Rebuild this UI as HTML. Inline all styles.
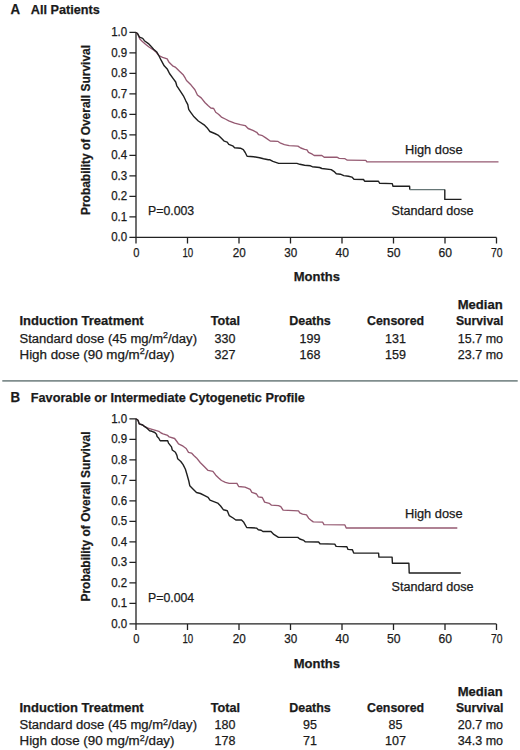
<!DOCTYPE html>
<html><head><meta charset="utf-8"><style>
html,body{margin:0;padding:0;background:#fff;}
svg{display:block;}
text{font-family:"Liberation Sans",sans-serif;fill:#1a1a1a;stroke:#1a1a1a;stroke-width:0.25px;}
</style></head><body>
<svg width="520" height="750" viewBox="0 0 520 750">
<rect width="520" height="750" fill="#fff"/>
<text x="10.6" y="14.4" font-size="14" font-weight="bold" textLength="9.6" lengthAdjust="spacingAndGlyphs">A</text>
<text x="30.8" y="14.4" font-size="13.5" font-weight="bold" textLength="69" lengthAdjust="spacingAndGlyphs">All Patients</text>
<text transform="translate(90.2 130) rotate(-90)" font-size="13.5" font-weight="bold" text-anchor="middle" textLength="170" lengthAdjust="spacingAndGlyphs">Probability of Overall Survival</text>
<path d="M136 32.3V237.4M136 237.4H496.5" stroke="#222" stroke-width="1.3" fill="none"/>
<text x="127.2" y="241.3" font-size="12" text-anchor="end" textLength="16" lengthAdjust="spacingAndGlyphs">0.0</text>
<text x="127.2" y="220.8" font-size="12" text-anchor="end" textLength="16" lengthAdjust="spacingAndGlyphs">0.1</text>
<text x="127.2" y="200.3" font-size="12" text-anchor="end" textLength="16" lengthAdjust="spacingAndGlyphs">0.2</text>
<text x="127.2" y="179.8" font-size="12" text-anchor="end" textLength="16" lengthAdjust="spacingAndGlyphs">0.3</text>
<text x="127.2" y="159.3" font-size="12" text-anchor="end" textLength="16" lengthAdjust="spacingAndGlyphs">0.4</text>
<text x="127.2" y="138.8" font-size="12" text-anchor="end" textLength="16" lengthAdjust="spacingAndGlyphs">0.5</text>
<text x="127.2" y="118.2" font-size="12" text-anchor="end" textLength="16" lengthAdjust="spacingAndGlyphs">0.6</text>
<text x="127.2" y="97.7" font-size="12" text-anchor="end" textLength="16" lengthAdjust="spacingAndGlyphs">0.7</text>
<text x="127.2" y="77.2" font-size="12" text-anchor="end" textLength="16" lengthAdjust="spacingAndGlyphs">0.8</text>
<text x="127.2" y="56.7" font-size="12" text-anchor="end" textLength="16" lengthAdjust="spacingAndGlyphs">0.9</text>
<text x="127.2" y="36.2" font-size="12" text-anchor="end" textLength="16" lengthAdjust="spacingAndGlyphs">1.0</text>
<text x="136.3" y="256.9" font-size="12.5" text-anchor="middle" textLength="6.2" lengthAdjust="spacingAndGlyphs">0</text>
<text x="187.8" y="256.9" font-size="12.5" text-anchor="middle" textLength="10.8" lengthAdjust="spacingAndGlyphs">10</text>
<text x="239.3" y="256.9" font-size="12.5" text-anchor="middle" textLength="13" lengthAdjust="spacingAndGlyphs">20</text>
<text x="290.8" y="256.9" font-size="12.5" text-anchor="middle" textLength="13" lengthAdjust="spacingAndGlyphs">30</text>
<text x="342.3" y="256.9" font-size="12.5" text-anchor="middle" textLength="13.5" lengthAdjust="spacingAndGlyphs">40</text>
<text x="393.8" y="256.9" font-size="12.5" text-anchor="middle" textLength="13.5" lengthAdjust="spacingAndGlyphs">50</text>
<text x="445.3" y="256.9" font-size="12.5" text-anchor="middle" textLength="13.5" lengthAdjust="spacingAndGlyphs">60</text>
<text x="496.8" y="256.9" font-size="12.5" text-anchor="middle" textLength="11.5" lengthAdjust="spacingAndGlyphs">70</text>
<path d="M129.4 237.4H136M129.4 216.9H136M129.4 196.4H136M129.4 175.9H136M129.4 155.4H136M129.4 134.9H136M129.4 114.3H136M129.4 93.8H136M129.4 73.3H136M129.4 52.8H136M129.4 32.3H136M136 237.4V243.4M187.5 237.4V243.4M239 237.4V243.4M290.5 237.4V243.4M342 237.4V243.4M393.5 237.4V243.4M445 237.4V243.4M496.5 237.4V243.4" stroke="#222" stroke-width="1.3" fill="none"/>
<text x="293.8" y="281.3" font-size="13" font-weight="bold" textLength="46.2" lengthAdjust="spacingAndGlyphs">Months</text>
<text x="148" y="215" font-size="12" textLength="46.2" lengthAdjust="spacingAndGlyphs">P=0.003</text>
<text x="404.9" y="153.8" font-size="12.5" textLength="57.7" lengthAdjust="spacingAndGlyphs">High dose</text>
<text x="391.5" y="214.9" font-size="12.5" textLength="82" lengthAdjust="spacingAndGlyphs">Standard dose</text>
<path d="M136 32.5L137.5 33.5L139.8 39L142.1 41.3L145.5 44.2L149 47L153.6 50L156.5 52.5L158.8 55.5L162.6 57.4L167.2 58.9L168.8 62L172.6 65.8L175.7 67.4L179.5 71.2L183.4 75.1L185.3 78.2L186.5 80.5L191.1 85.1L194.9 89.7L197.4 95L201.2 97.9L205.1 102.7L208 105.6L210.8 108L213.7 108.5L215.7 112.3L218.5 114.2L221.4 117.1L225.3 119L228.8 120.8L234.6 123.2L240.4 124.6L245.2 125.6L248.1 128.5L252.9 130.4L256.7 132.3L258.7 134.7L262.5 135.7L265.4 137.6L270.2 141L277.7 141.3L280.6 143.2L284.4 144.6L289.2 145.6L297.9 146.1L300.8 148L304.6 149.4L307 149.9L308.5 152.3L312.3 154.2L314.2 155.5L321.9 155.5L324.2 157.2L336.9 157.2L339.2 158.3L345 158.7L347.3 160.2L365.8 160.4L366.9 161.9L498.5 161.9" stroke="#955a72" stroke-width="1.35" fill="none" stroke-linejoin="round"/>
<path d="M136 32.5L137.5 33.5L139.5 37.2L142.7 38.4L144.4 40.7L148.4 43.6L150.7 45.9L153.6 49.3L156.5 51.7L158.8 55.5L161.1 60.2L164.2 65.8L167.2 68.9L169.5 73.5L173.4 78.9L175.7 82L176.8 85.8L180.3 91.2L183.4 95.8L185.8 100.8L187.8 104.6L188.7 109.4L190.7 112.3L193.5 116.2L198.3 121L204.1 124.8L207 127.7L209.9 131.5L214.7 133.5L218.5 135.4L221.4 138.3L224.3 141.2L227.2 142.1L228.8 144.3L232.7 145.8L234.6 147.7L240.4 148.2L243.3 149.6L245.2 152.5L247.1 156.3L253.8 156.8L259.6 157.8L263.5 158.8L268.3 159.7L270 159.8L272.9 161.4L278.7 163.4L296.9 163.4L299.8 164.3L304.6 165.3L310.4 165.8L312.3 166.7L319.6 167.5L321.9 168.5L331.2 169.6L334.6 171.9L336.3 173.7L340.4 174.2L343.8 175.6L348.5 176.3L351.9 177.1L354.2 179.4L363.5 179.5L364.6 181.2L378.5 181.2L379.6 183.3L392.3 183.6L392.9 186.2L409.6 186.2L409.8 189.6" stroke="#1f1f1f" stroke-width="1.4" fill="none" stroke-linejoin="round"/>
<path d="M409.8 189.6L444.8 189.6" stroke="#667676" stroke-width="1.4" fill="none"/>
<path d="M444.8 189.6L444.8 199.4L461.5 199.4" stroke="#1f1f1f" stroke-width="1.4" fill="none" stroke-linejoin="round"/>
<text x="457.7" y="309.2" font-size="12.5" font-weight="bold" textLength="45" lengthAdjust="spacingAndGlyphs">Median</text>
<text x="19.5" y="325.4" font-size="12.5" font-weight="bold" textLength="124.2" lengthAdjust="spacingAndGlyphs">Induction Treatment</text>
<text x="210.8" y="325.2" font-size="12.5" font-weight="bold" textLength="29.2" lengthAdjust="spacingAndGlyphs">Total</text>
<text x="289.2" y="325.2" font-size="12.5" font-weight="bold" textLength="41.6" lengthAdjust="spacingAndGlyphs">Deaths</text>
<text x="367" y="325.2" font-size="12.5" font-weight="bold" textLength="57.1" lengthAdjust="spacingAndGlyphs">Censored</text>
<text x="456" y="325.2" font-size="12.5" font-weight="bold" textLength="47.4" lengthAdjust="spacingAndGlyphs">Survival</text>
<text x="19.5" y="342.5" font-size="12.5" textLength="177.5" lengthAdjust="spacingAndGlyphs">Standard dose (45 mg/m<tspan font-size="8.5" dy="-4.5">2</tspan><tspan dy="4.5">/day)</tspan></text>
<text x="19.5" y="358.8" font-size="12.5" textLength="155" lengthAdjust="spacingAndGlyphs">High dose (90 mg/m<tspan font-size="8.5" dy="-4.5">2</tspan><tspan dy="4.5">/day)</tspan></text>
<text x="225" y="342.5" font-size="12.5" text-anchor="middle">330</text>
<text x="310" y="342.5" font-size="12.5" text-anchor="middle">199</text>
<text x="395.5" y="342.5" font-size="12.5" text-anchor="middle">131</text>
<text x="503" y="342.5" font-size="12.5" text-anchor="end">15.7 mo</text>
<text x="225" y="358.8" font-size="12.5" text-anchor="middle">327</text>
<text x="310" y="358.8" font-size="12.5" text-anchor="middle">168</text>
<text x="395.5" y="358.8" font-size="12.5" text-anchor="middle">159</text>
<text x="503" y="358.8" font-size="12.5" text-anchor="end">23.7 mo</text>
<path d="M2.3 380.9H517.7" stroke="#808e8e" stroke-width="1.8"/>
<text x="10.6" y="402.1" font-size="14" font-weight="bold" textLength="9.6" lengthAdjust="spacingAndGlyphs">B</text>
<text x="30.8" y="402.1" font-size="13.5" font-weight="bold" textLength="274.1" lengthAdjust="spacingAndGlyphs">Favorable or Intermediate Cytogenetic Profile</text>
<text transform="translate(90.2 516.5) rotate(-90)" font-size="13.5" font-weight="bold" text-anchor="middle" textLength="170" lengthAdjust="spacingAndGlyphs">Probability of Overall Survival</text>
<path d="M136 418.8V623.9M136 623.9H496.5" stroke="#222" stroke-width="1.3" fill="none"/>
<text x="127.2" y="627.8" font-size="12" text-anchor="end" textLength="16" lengthAdjust="spacingAndGlyphs">0.0</text>
<text x="127.2" y="607.3" font-size="12" text-anchor="end" textLength="16" lengthAdjust="spacingAndGlyphs">0.1</text>
<text x="127.2" y="586.8" font-size="12" text-anchor="end" textLength="16" lengthAdjust="spacingAndGlyphs">0.2</text>
<text x="127.2" y="566.3" font-size="12" text-anchor="end" textLength="16" lengthAdjust="spacingAndGlyphs">0.3</text>
<text x="127.2" y="545.8" font-size="12" text-anchor="end" textLength="16" lengthAdjust="spacingAndGlyphs">0.4</text>
<text x="127.2" y="525.2" font-size="12" text-anchor="end" textLength="16" lengthAdjust="spacingAndGlyphs">0.5</text>
<text x="127.2" y="504.7" font-size="12" text-anchor="end" textLength="16" lengthAdjust="spacingAndGlyphs">0.6</text>
<text x="127.2" y="484.2" font-size="12" text-anchor="end" textLength="16" lengthAdjust="spacingAndGlyphs">0.7</text>
<text x="127.2" y="463.7" font-size="12" text-anchor="end" textLength="16" lengthAdjust="spacingAndGlyphs">0.8</text>
<text x="127.2" y="443.2" font-size="12" text-anchor="end" textLength="16" lengthAdjust="spacingAndGlyphs">0.9</text>
<text x="127.2" y="422.7" font-size="12" text-anchor="end" textLength="16" lengthAdjust="spacingAndGlyphs">1.0</text>
<text x="136.3" y="643.4" font-size="12.5" text-anchor="middle" textLength="6.2" lengthAdjust="spacingAndGlyphs">0</text>
<text x="187.8" y="643.4" font-size="12.5" text-anchor="middle" textLength="10.8" lengthAdjust="spacingAndGlyphs">10</text>
<text x="239.3" y="643.4" font-size="12.5" text-anchor="middle" textLength="13" lengthAdjust="spacingAndGlyphs">20</text>
<text x="290.8" y="643.4" font-size="12.5" text-anchor="middle" textLength="13" lengthAdjust="spacingAndGlyphs">30</text>
<text x="342.3" y="643.4" font-size="12.5" text-anchor="middle" textLength="13.5" lengthAdjust="spacingAndGlyphs">40</text>
<text x="393.8" y="643.4" font-size="12.5" text-anchor="middle" textLength="13.5" lengthAdjust="spacingAndGlyphs">50</text>
<text x="445.3" y="643.4" font-size="12.5" text-anchor="middle" textLength="13.5" lengthAdjust="spacingAndGlyphs">60</text>
<text x="496.8" y="643.4" font-size="12.5" text-anchor="middle" textLength="11.5" lengthAdjust="spacingAndGlyphs">70</text>
<path d="M129.4 623.9H136M129.4 603.4H136M129.4 582.9H136M129.4 562.4H136M129.4 541.9H136M129.4 521.4H136M129.4 500.8H136M129.4 480.3H136M129.4 459.8H136M129.4 439.3H136M129.4 418.8H136M136 623.9V629.9M187.5 623.9V629.9M239 623.9V629.9M290.5 623.9V629.9M342 623.9V629.9M393.5 623.9V629.9M445 623.9V629.9M496.5 623.9V629.9" stroke="#222" stroke-width="1.3" fill="none"/>
<text x="293.8" y="667.8" font-size="13" font-weight="bold" textLength="46.2" lengthAdjust="spacingAndGlyphs">Months</text>
<text x="148" y="601.5" font-size="12" textLength="46.2" lengthAdjust="spacingAndGlyphs">P=0.004</text>
<text x="404.9" y="518.4" font-size="12.5" textLength="57.7" lengthAdjust="spacingAndGlyphs">High dose</text>
<text x="391.5" y="590.5" font-size="12.5" textLength="82" lengthAdjust="spacingAndGlyphs">Standard dose</text>
<path d="M136 418.9L138 420.3L139.2 423.8L142.7 425L144.4 426.4L147.3 427.8L152 429.3L156.5 430.7L158.8 431.3L161.1 433L163.1 433.8L167.7 435.4L169.2 436.9L174.6 438.5L176.9 441.5L178.5 443.8L183.1 446.2L186.2 448.5L188.5 452.3L191.5 453.1L193.8 455.4L196.5 457.9L200.4 462.7L204.2 466.5L208.1 470.4L212.9 471.3L215.8 475.2L218.7 478.1L221.5 480.5L225.4 482.4L229.2 483.4L236.9 483.3L238.7 486.5L245 487.1L250.2 489.4L251.9 492.3L256.5 494L258.3 496.9L262.3 497.5L264.6 502.1L269.2 503.3L271.5 505.2L278.5 505.6L280.8 506.7L283.1 510.2L298.5 510.8L299.8 512.8L302.5 514.1L306.5 514.8L308.6 518.2L311.9 520.9L313.3 521.9L322.7 522.2L324 524.6L344.9 524.9L346.2 528L457.3 528" stroke="#955a72" stroke-width="1.35" fill="none" stroke-linejoin="round"/>
<path d="M136 418.9L138 420.3L139.2 423.8L142.7 425L144.4 426.4L147.3 428.4L149.6 430.7L151.9 431.3L154.8 432.5L156.5 434.2L157.1 436.5L158.8 438.2L160 440.5L160.5 440.8L167.7 440.8L168.5 443.1L171.5 446.9L172.3 450L175.4 452.3L176.9 455.4L177.7 458.8L180.8 461.5L183.1 464.6L185.4 469.2L186.9 474.2L188.8 481L189.8 485.8L192.7 488.7L196.5 492.5L200.4 493.5L204.2 495.4L208.1 497.3L210 500.2L213.8 501.6L217.7 503.1L220.6 506L223.5 509.8L227.3 510.8L229.2 515.6L233.1 518L235.8 520L241.5 520L243.8 522.3L246.7 527.5L256.5 528.1L258.3 529.8L261.2 530.2L262.9 531.5L271 531.5L273.8 534.4L278.5 537.4L297.8 537.4L299.8 539L303.8 540.4L305.2 541.7L318.6 542L320 543.7L334.8 544.1L336.1 546.4L346.9 546.8L348 549.4L352.4 549.7L353.7 553.1L378.6 553.1L378.9 557.1L392.1 557.1L392.4 563.3L408.9 563.3L409.2 573L460.8 573" stroke="#1f1f1f" stroke-width="1.4" fill="none" stroke-linejoin="round"/>
<text x="457.7" y="695.7" font-size="12.5" font-weight="bold" textLength="45" lengthAdjust="spacingAndGlyphs">Median</text>
<text x="19.5" y="711.9" font-size="12.5" font-weight="bold" textLength="124.2" lengthAdjust="spacingAndGlyphs">Induction Treatment</text>
<text x="210.8" y="711.7" font-size="12.5" font-weight="bold" textLength="29.2" lengthAdjust="spacingAndGlyphs">Total</text>
<text x="289.2" y="711.7" font-size="12.5" font-weight="bold" textLength="41.6" lengthAdjust="spacingAndGlyphs">Deaths</text>
<text x="367" y="711.7" font-size="12.5" font-weight="bold" textLength="57.1" lengthAdjust="spacingAndGlyphs">Censored</text>
<text x="456" y="711.7" font-size="12.5" font-weight="bold" textLength="47.4" lengthAdjust="spacingAndGlyphs">Survival</text>
<text x="19.5" y="729" font-size="12.5" textLength="177.5" lengthAdjust="spacingAndGlyphs">Standard dose (45 mg/m<tspan font-size="8.5" dy="-4.5">2</tspan><tspan dy="4.5">/day)</tspan></text>
<text x="19.5" y="745.3" font-size="12.5" textLength="155" lengthAdjust="spacingAndGlyphs">High dose (90 mg/m<tspan font-size="8.5" dy="-4.5">2</tspan><tspan dy="4.5">/day)</tspan></text>
<text x="225" y="729" font-size="12.5" text-anchor="middle">180</text>
<text x="310" y="729" font-size="12.5" text-anchor="middle">95</text>
<text x="395.5" y="729" font-size="12.5" text-anchor="middle">85</text>
<text x="503" y="729" font-size="12.5" text-anchor="end">20.7 mo</text>
<text x="225" y="745.3" font-size="12.5" text-anchor="middle">178</text>
<text x="310" y="745.3" font-size="12.5" text-anchor="middle">71</text>
<text x="395.5" y="745.3" font-size="12.5" text-anchor="middle">107</text>
<text x="503" y="745.3" font-size="12.5" text-anchor="end">34.3 mo</text>
</svg>
</body></html>
